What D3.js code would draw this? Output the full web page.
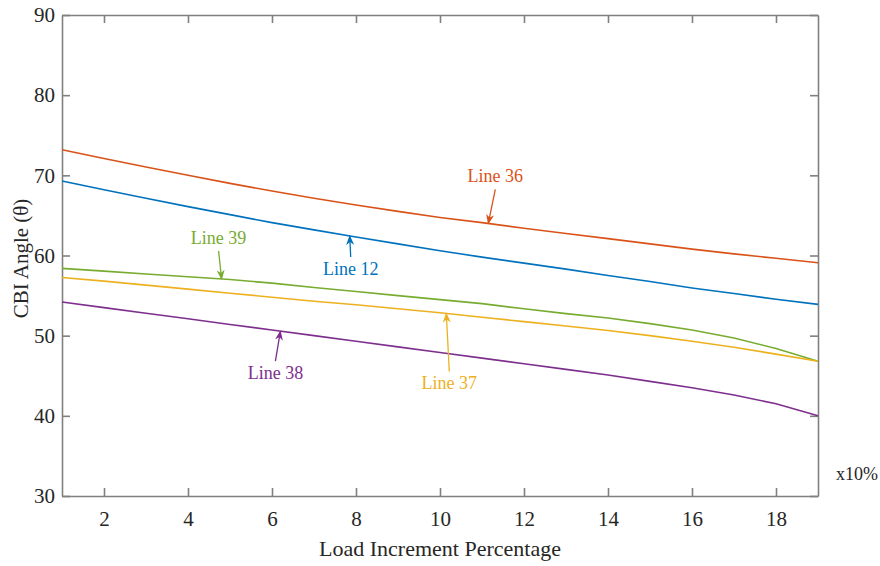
<!DOCTYPE html>
<html>
<head>
<meta charset="utf-8">
<script src="https://cdn.jsdelivr.net/npm/d3@7"></script>
<style>
  body { margin: 0; background: #fff; }
</style>
</head>
<body>
<div class="graph"></div>
<script>
'use strict'

// load increment steps (x10%)
const steps = d3.range(1, 20)

// CBI angle per line
const line36 = [73.2, 72.1, 71.05, 70.0, 69.0, 68.05, 67.15, 66.3, 65.5, 64.75, 64.1, 63.4, 62.75, 62.1, 61.45, 60.8, 60.2, 59.65, 59.1]
const line12 = [69.3, 68.2, 67.15, 66.1, 65.1, 64.1, 63.2, 62.3, 61.45, 60.6, 59.8, 59.05, 58.3, 57.5, 56.75, 55.95, 55.25, 54.55, 53.9]
const line39 = [58.4, 58.05, 57.7, 57.35, 57.0, 56.55, 56.0, 55.5, 55.0, 54.5, 54.0, 53.35, 52.75, 52.2, 51.5, 50.7, 49.7, 48.4, 46.8]
const line37 = [57.25, 56.8, 56.3, 55.8, 55.3, 54.8, 54.3, 53.85, 53.35, 52.85, 52.3, 51.75, 51.2, 50.65, 50.0, 49.3, 48.55, 47.7, 46.8]
const line38 = [54.2, 53.5, 52.8, 52.1, 51.4, 50.7, 50.0, 49.3, 48.6, 47.9, 47.2, 46.5, 45.8, 45.1, 44.3, 43.5, 42.6, 41.5, 40.0]

const seriesNames = ['Line 36', 'Line 12', 'Line 39', 'Line 37', 'Line 38']
const seriesValues = [line36, line12, line39, line37, line38]
const seriesColors = ['#D95319', '#0072BD', '#77AC30', '#EDB120', '#7E2F8E']

const xTicks = [2, 4, 6, 8, 10, 12, 14, 16, 18]
const yTicks = [30, 40, 50, 60, 70, 80, 90]

// where each label arrow touches its line (x value) and where the label sits (offset in px)
const arrowAt = [11.15, 7.85, 4.8, 10.15, 6.2]
const labelOffset = [[7, -41], [1, 33], [-3, -35], [3, 70], [-5, 42]]

const serif = '"Liberation Serif", "Times New Roman", serif'

const margin = { top: 15, right: 62, bottom: 70, left: 62 }
const width = 880 - margin.left - margin.right
const height = 566 - margin.top - margin.bottom

const svg = d3.select('.graph').append('svg')
  .attr('width', 880)
  .attr('height', 566)
  .append('g')
  .attr('transform', `translate(${margin.left},${margin.top})`)

const x = d3.scaleLinear().domain([1, 19]).range([0, width])
const y = d3.scaleLinear().domain([30, 90]).range([height, 0])

const axisColor = '#808080'
const textColor = '#262626'

// axes, ticks pointing inward, mirrored on top and right
const axes = [
  { gen: d3.axisBottom(x).tickValues(xTicks), at: [0, height], labels: true, pad: 15 },
  { gen: d3.axisTop(x).tickValues(xTicks), at: [0, 0], labels: false, pad: 12 },
  { gen: d3.axisLeft(y).tickValues(yTicks), at: [0, 0], labels: true, pad: 7 },
  { gen: d3.axisRight(y).tickValues(yTicks), at: [width, 0], labels: false, pad: 12 }
]
axes.forEach(a => {
  const g = svg.append('g')
    .attr('transform', `translate(${a.at[0]},${a.at[1]})`)
    .call(a.gen.tickSizeInner(-8).tickSizeOuter(0).tickPadding(a.pad))
  g.attr('font-family', serif)
  g.select('.domain').attr('stroke', axisColor).attr('stroke-width', 1.6)
  g.selectAll('.tick line').attr('stroke', axisColor).attr('stroke-width', 1.6)
  g.selectAll('.tick text')
    .style('font-family', serif)
    .style('font-size', '21px')
    .attr('fill', textColor)
    .style('display', a.labels ? null : 'none')
})

const line = d3.line()
  .x((d, i) => x(steps[i]))
  .y(d => y(d))

svg.selectAll('.series')
  .data(seriesValues)
  .join('path')
  .attr('class', 'series')
  .attr('fill', 'none')
  .attr('stroke', (d, i) => seriesColors[i])
  .attr('stroke-width', 1.6)
  .attr('d', line)

// arrow heads, one per colour
const defs = svg.append('defs')
seriesColors.forEach((c, i) => {
  defs.append('marker')
    .attr('id', 'arrow' + i)
    .attr('viewBox', '0 0 10 10')
    .attr('refX', 9)
    .attr('refY', 5)
    .attr('markerWidth', 10)
    .attr('markerHeight', 10)
    .attr('markerUnits', 'userSpaceOnUse')
    .attr('orient', 'auto')
    .append('path')
    .attr('d', 'M0,1 L10,5 L0,9 L3,5 Z')
    .attr('fill', c)
})

seriesValues.forEach((vals, i) => {
  const tipX = x(arrowAt[i])
  const tipY = y(d3.scaleLinear().domain(steps).range(vals)(arrowAt[i]))
  const lx = tipX + labelOffset[i][0]
  const ly = tipY + labelOffset[i][1]
  const below = labelOffset[i][1] > 0
  svg.append('line')
    .attr('x1', lx)
    .attr('y1', below ? ly - 12 : ly + 7)
    .attr('x2', tipX)
    .attr('y2', tipY)
    .attr('stroke', seriesColors[i])
    .attr('stroke-width', 1.3)
    .attr('marker-end', `url(#arrow${i})`)
  svg.append('text')
    .attr('x', lx)
    .attr('y', below ? ly + 6 : ly)
    .attr('text-anchor', 'middle')
    .style('font-family', serif)
    .style('font-size', '18px')
    .attr('fill', seriesColors[i])
    .text(seriesNames[i])
})

// axis titles
svg.append('text')
  .attr('transform', `translate(${-34},${height / 2 + 3}) rotate(-90)`)
  .attr('text-anchor', 'middle')
  .style('font-family', serif)
  .style('font-size', '21px')
  .attr('fill', textColor)
  .text('CBI Angle (θ)')

svg.append('text')
  .attr('x', width / 2)
  .attr('y', height + 60)
  .attr('text-anchor', 'middle')
  .style('font-family', serif)
  .style('font-size', '22px')
  .attr('fill', textColor)
  .text('Load Increment Percentage')

svg.append('text')
  .attr('x', width + 18)
  .attr('y', height - 16)
  .style('font-family', serif)
  .style('font-size', '18px')
  .attr('fill', textColor)
  .text('x10%')
</script>
</body>
</html>
